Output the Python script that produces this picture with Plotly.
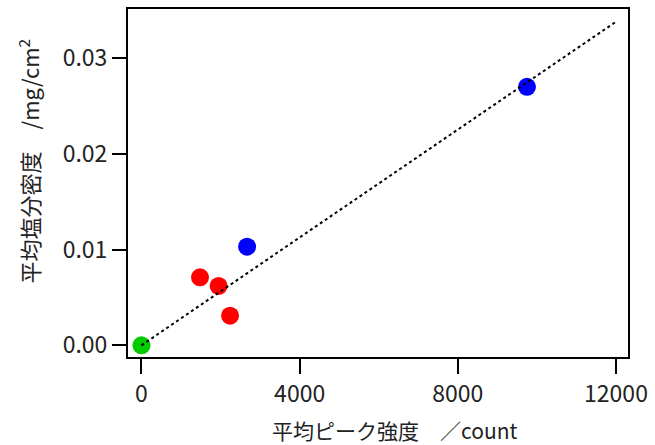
import plotly.graph_objects as go

# data
green_x = [0]
green_y = [0.0]
red_x = [1480, 1950, 2240]
red_y = [0.0071, 0.0062, 0.0031]
blue_x = [2670, 9750]
blue_y = [0.0103, 0.0270]
fit_x = [0, 12000]
fit_y = [0.0, 0.0338]

x_ticks = [0, 4000, 8000, 12000]
y_ticks = [0.00, 0.01, 0.02, 0.03]

x_title = "平均ピーク強度　／count"
y_title = "平均塩分密度　/mg/cm<sup>2</sup>"

FONT = "Noto Sans CJK JP"
TXT = "#222222"

fig = go.Figure()
fig.add_trace(go.Scatter(x=green_x, y=green_y, mode="markers",
                         marker=dict(color="#00cc00", size=18, line=dict(width=0))))
fig.add_trace(go.Scatter(x=red_x, y=red_y, mode="markers",
                         marker=dict(color="#ff0000", size=18, line=dict(width=0))))
fig.add_trace(go.Scatter(x=blue_x, y=blue_y, mode="markers",
                         marker=dict(color="#0000ff", size=18, line=dict(width=0))))
fig.add_trace(go.Scatter(x=fit_x, y=fit_y, mode="lines",
                         line=dict(color="black", width=2, dash="dot")))

fig.update_layout(
    width=655, height=445,
    margin=dict(l=128, r=27, t=9, b=88),
    plot_bgcolor="white", paper_bgcolor="white",
    showlegend=False,
    font=dict(family=FONT, color=TXT),
    xaxis=dict(
        range=[-341, 12304], tickvals=x_ticks, tickformat="d",
        ticks="outside", ticklen=15, tickwidth=2, tickcolor="black",
        showline=True, linewidth=2, linecolor="black", mirror=True,
        showgrid=False, zeroline=False, automargin=False,
        tickfont=dict(size=23, family=FONT, color=TXT),
    ),
    yaxis=dict(
        range=[-0.00122, 0.03513], tickvals=y_ticks, tickformat=".2f",
        ticks="outside", ticklen=14, tickwidth=2, tickcolor="black",
        showline=True, linewidth=2, linecolor="black", mirror=True,
        showgrid=False, zeroline=False, automargin=False,
        tickfont=dict(size=23, family=FONT, color=TXT),
    ),
    annotations=[
        dict(text=x_title, xref="paper", yref="paper", x=0.532, y=-0.21,
             xanchor="center", yanchor="middle", showarrow=False,
             font=dict(size=21, family=FONT, color=TXT)),
        dict(text=y_title, xref="paper", yref="paper", x=-0.2, y=0.5618,
             xanchor="center", yanchor="middle", showarrow=False, textangle=-90,
             font=dict(size=22, family=FONT, color=TXT)),
    ],
)

fig.write_html("out.html",
               config={"displayModeBar": False},
               post_script="document.body.style.margin='0';document.body.style.overflow='hidden';")
